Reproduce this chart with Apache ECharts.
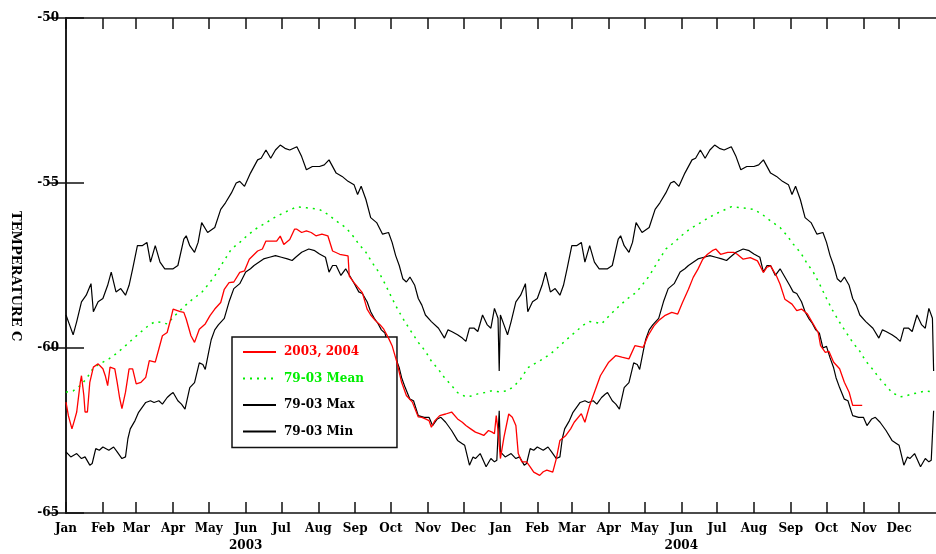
<!DOCTYPE html>
<html>
<head>
<meta charset="utf-8">
<script src="https://cdn.jsdelivr.net/npm/echarts@6/dist/echarts.min.js"></script>
<style>
  html, body { margin: 0; padding: 0; background: #fff; }
  #chart { width: 936px; height: 554px; }
</style>
</head>
<body>
<div id="chart"></div>
<script>
// Day-of-year climatology, 1979-2003: [dayOfYear, °C]
const maxClim = [
  [0,-59.0],[3,-59.3],[6,-59.6],[9,-59.2],[13,-58.6],[17,-58.4],[21,-58.05],[23,-58.9],[27,-58.6],[31,-58.5],
  [35,-58.1],[38,-57.7],[42,-58.3],[46,-58.2],[50,-58.4],[53,-58.1],[56,-57.6],[60,-56.9],[64,-56.9],[68,-56.8],
  [71,-57.4],[75,-56.9],[79,-57.4],[83,-57.6],[86,-57.6],[90,-57.6],[94,-57.5],[99,-56.7],[101,-56.6],[104,-56.9],
  [108,-57.1],[111,-56.8],[114,-56.2],[119,-56.5],[125,-56.35],[130,-55.8],[134,-55.6],[139,-55.3],[143,-55.0],
  [146,-54.95],[150,-55.1],[155,-54.7],[161,-54.3],[164,-54.25],[168,-54.0],[172,-54.25],[176,-54.0],[180,-53.85],
  [184,-53.95],[188,-54.0],[194,-53.9],[198,-54.2],[202,-54.6],[207,-54.5],[213,-54.5],[217,-54.45],[221,-54.3],
  [227,-54.7],[232,-54.8],[237,-54.95],[242,-55.05],[245,-55.35],[248,-55.1],[252,-55.5],[256,-56.05],[261,-56.2],
  [266,-56.55],[271,-56.5],[274,-56.8],[277,-57.2],[280,-57.5],[283,-57.9],[286,-58.0],[289,-57.85],[293,-58.1],
  [296,-58.5],[299,-58.7],[302,-59.0],[307,-59.2],[313,-59.4],[318,-59.7],[321,-59.45],[324,-59.5],[329,-59.6],
  [333,-59.7],[336,-59.8],[339,-59.4],[343,-59.4],[346,-59.5],[350,-59.0],[354,-59.3],[357,-59.4],[360,-58.8],
  [363,-59.1],[364,-60.7]
];

const meanClim = [
  [0,-61.34],[6,-61.3],[12,-61.14],[17,-60.94],[23,-60.6],[30,-60.45],[36,-60.33],[43,-60.15],[50,-59.93],
  [57,-59.7],[64,-59.48],[70,-59.3],[75,-59.2],[80,-59.22],[85,-59.27],[92,-59.0],[100,-58.72],[107,-58.5],
  [114,-58.32],[120,-58.05],[125,-57.82],[132,-57.4],[139,-57.0],[146,-56.8],[152,-56.6],[159,-56.4],[166,-56.25],
  [175,-56.05],[183,-55.9],[194,-55.72],[202,-55.75],[213,-55.8],[220,-55.95],[227,-56.15],[235,-56.35],
  [241,-56.6],[246,-56.85],[252,-57.1],[257,-57.4],[263,-57.71],[268,-58.05],[274,-58.5],[279,-58.85],
  [285,-59.22],[290,-59.5],[296,-59.83],[302,-60.1],[307,-60.4],[313,-60.65],[318,-60.9],[323,-61.1],
  [329,-61.35],[336,-61.48],[341,-61.45],[346,-61.39],[352,-61.35],[357,-61.3],[364,-61.33]
];

const minClim = [
  [0,-63.15],[4,-63.3],[9,-63.2],[13,-63.35],[16,-63.3],[20,-63.55],[22,-63.5],[25,-63.05],[28,-63.1],[31,-63.0],
  [36,-63.1],[40,-63.0],[43,-63.15],[47,-63.35],[50,-63.3],[52,-62.75],[54,-62.45],[58,-62.2],[61,-61.95],
  [64,-61.8],[67,-61.65],[71,-61.6],[74,-61.65],[78,-61.6],[81,-61.7],[85,-61.5],[88,-61.4],[90,-61.35],
  [94,-61.6],[97,-61.7],[100,-61.85],[104,-61.2],[108,-61.05],[112,-60.45],[115,-60.5],[117,-60.65],[120,-60.1],
  [122,-59.75],[125,-59.45],[128,-59.3],[133,-59.1],[137,-58.6],[141,-58.2],[146,-58.05],[151,-57.7],[155,-57.6],
  [158,-57.5],[162,-57.4],[166,-57.3],[171,-57.25],[176,-57.2],[181,-57.25],[186,-57.3],[190,-57.35],[193,-57.25],
  [198,-57.1],[204,-57.0],[209,-57.05],[213,-57.15],[218,-57.25],[221,-57.7],[224,-57.5],[227,-57.5],[231,-57.8],
  [235,-57.6],[239,-57.85],[243,-58.1],[246,-58.3],[249,-58.35],[253,-58.6],[256,-58.9],[259,-59.1],[262,-59.25],
  [265,-59.45],[268,-59.55],[271,-60.0],[274,-59.95],[277,-60.3],[280,-60.6],[282,-60.9],[285,-61.2],[289,-61.55],
  [292,-61.6],[296,-62.05],[301,-62.1],[305,-62.1],[308,-62.35],[312,-62.15],[315,-62.1],[319,-62.25],[324,-62.5],
  [329,-62.8],[333,-62.9],[335,-62.95],[339,-63.55],[342,-63.3],[344,-63.35],[348,-63.2],[353,-63.6],[357,-63.35],
  [360,-63.45],[362,-63.4],[364,-61.9]
];

// Observed 2003-2004: [days since 1 Jan 2003, °C]
const obs0304 = [
  [0,-61.64],[2,-62.05],[5,-62.45],[7,-62.2],[9,-61.94],[12,-61.04],[13,-60.84],[15,-61.44],[16,-61.94],[18,-61.94],
  [20,-61.04],[23,-60.58],[27,-60.48],[31,-60.63],[33,-60.84],[35,-61.14],[37,-60.58],[41,-60.63],[43,-61.04],
  [45,-61.5],[47,-61.84],[50,-61.34],[53,-60.63],[56,-60.63],[59,-61.09],[63,-61.04],[67,-60.89],[70,-60.38],
  [75,-60.43],[78,-60.03],[81,-59.63],[85,-59.53],[88,-59.12],[90,-58.82],[96,-58.9],[99,-58.92],[101,-59.12],
  [105,-59.63],[108,-59.83],[112,-59.43],[117,-59.27],[121,-59.02],[125,-58.82],[130,-58.62],[133,-58.22],
  [137,-58.02],[141,-58.0],[146,-57.71],[150,-57.66],[154,-57.31],[161,-57.06],[165,-57.0],[168,-56.76],
  [177,-56.76],[180,-56.61],[183,-56.86],[188,-56.71],[192,-56.4],[194,-56.4],[198,-56.5],[202,-56.45],
  [206,-56.5],[210,-56.6],[215,-56.55],[220,-56.6],[224,-57.06],[230,-57.16],[237,-57.21],[238,-57.82],
  [242,-58.02],[245,-58.15],[249,-58.32],[253,-58.82],[256,-59.0],[260,-59.17],[264,-59.3],[267,-59.43],
  [271,-59.7],[274,-59.93],[278,-60.43],[282,-61.04],[286,-61.44],[291,-61.64],[296,-62.09],[299,-62.1],
  [302,-62.15],[305,-62.2],[307,-62.4],[310,-62.2],[314,-62.05],[319,-62.0],[324,-61.94],[329,-62.15],
  [333,-62.25],[336,-62.35],[340,-62.45],[344,-62.55],[348,-62.6],[351,-62.65],[355,-62.5],[358,-62.55],
  [360,-62.6],[361.5,-62.05],[363,-62.5],[365,-63.35],[368,-62.7],[372,-62.0],[375,-62.1],[378,-62.35],
  [380,-63.2],[383,-63.45],[387,-63.45],[390,-63.6],[393,-63.76],[398,-63.86],[401,-63.75],[404,-63.7],
  [409,-63.76],[412,-63.35],[415,-62.8],[420,-62.65],[424,-62.45],[427,-62.25],[433,-61.99],[436,-62.25],
  [440,-61.74],[444,-61.34],[449,-60.84],[456,-60.43],[462,-60.23],[467,-60.28],[473,-60.33],[478,-59.93],
  [485,-59.98],[489,-59.63],[494,-59.33],[498,-59.17],[503,-59.02],[509,-58.92],[514,-58.97],[518,-58.62],
  [523,-58.22],[527,-57.86],[531,-57.61],[535,-57.31],[539,-57.16],[543,-57.05],[546,-57.0],[550,-57.16],
  [556,-57.1],[561,-57.1],[564,-57.16],[569,-57.31],[575,-57.26],[581,-57.36],[586,-57.71],[589,-57.55],
  [592,-57.51],[597,-57.82],[600,-58.07],[604,-58.52],[610,-58.67],[614,-58.87],[618,-58.82],[623,-58.97],
  [627,-59.22],[632,-59.53],[634,-59.93],[638,-60.13],[641,-60.1],[645,-60.43],[650,-60.63],[654,-61.04],
  [658,-61.34],[661,-61.74],[669,-61.74]
];

// Axis ticks: first day of each month, counted from 1 Jan 2003
const monthStarts = [0,31,59,90,120,151,181,212,243,273,304,334,
                     365,396,425,456,486,517,547,578,609,639,670,700];
const monthNames = ['Jan','Feb','Mar','Apr','May','Jun','Jul','Aug','Sep','Oct','Nov','Dec'];
const yearLabels = ['2003','2004'];
const yearStartDays = [0, 365];

// repeat a day-of-year climatology for each plotted year
function overYears(clim) {
  const out = [];
  yearStartDays.forEach(off => clim.forEach(p => out.push([p[0] + off, p[1]])));
  return out;
}

function monthLabel(v) {
  const i = monthStarts.indexOf(Math.round(v));
  if (i < 0) return '';
  const m = i % 12;
  let s = monthNames[m];
  if (m === 5) s += '\n' + yearLabels[Math.floor(i / 12)];
  return s;
}

const FONT = 'DejaVu Serif';
const axisLine = { show: true, lineStyle: { color: '#111', width: 1.5 } };
const tickStyle = { color: '#111', width: 1.5 };

const chart = echarts.init(document.getElementById('chart'), null, { renderer: 'canvas' });
chart.setOption({
  animation: false,
  backgroundColor: '#fff',
  grid: { left: 66, right: -12, top: 18, bottom: 39.5, containLabel: false },
  xAxis: [
    {
      type: 'value', position: 'bottom', min: 0, max: 731,
      axisLine: axisLine,
      axisTick: { show: true, inside: true, length: 11, customValues: monthStarts, lineStyle: tickStyle },
      axisLabel: { show: true, customValues: monthStarts, formatter: monthLabel, margin: 7,
                   fontFamily: FONT, fontWeight: 'bold', fontSize: 12, color: '#000', lineHeight: 17 },
      splitLine: { show: false }
    },
    {
      type: 'value', position: 'top', min: 0, max: 731,
      axisLine: axisLine,
      axisTick: { show: true, inside: true, length: 11, customValues: monthStarts, lineStyle: tickStyle },
      axisLabel: { show: false },
      splitLine: { show: false }
    }
  ],
  yAxis: [
    {
      type: 'value', position: 'left', min: -65, max: -50, interval: 5,
      axisLine: axisLine,
      axisTick: { show: true, inside: true, length: 18, lineStyle: tickStyle },
      axisLabel: { show: true, margin: 7, fontFamily: FONT, fontWeight: 'bold', fontSize: 12, color: '#000' },
      splitLine: { show: false }
    },
    {
      type: 'value', position: 'right', min: -65, max: -50, interval: 5,
      axisLine: axisLine,
      axisTick: { show: true, inside: true, length: 18, lineStyle: tickStyle },
      axisLabel: { show: false },
      splitLine: { show: false }
    }
  ],
  legend: {
    orient: 'vertical', left: 232, top: 337,
    padding: [9, 33, 10, 10],
    itemWidth: 33, itemHeight: 14, itemGap: 14.5,
    itemStyle: { opacity: 0 },
    backgroundColor: '#fff', borderColor: '#111', borderWidth: 1.5, borderRadius: 0,
    textStyle: { fontFamily: FONT, fontWeight: 'bold', fontSize: 12, padding: [0, 0, 0, 3] },
    data: [
      { name: '2003, 2004', textStyle: { color: '#ff0000' } },
      { name: '79-03 Mean', textStyle: { color: '#00ee00' } },
      { name: '79-03 Max', textStyle: { color: '#000' } },
      { name: '79-03 Min', textStyle: { color: '#000' } }
    ]
  },
  graphic: [{
    type: 'text', left: 9, top: 211, rotation: -Math.PI / 2,
    style: { text: 'TEMPERATURE C', font: 'bold 13px "DejaVu Serif"', fill: '#000' }
  }],
  series: [
    { name: '79-03 Max', type: 'line', symbol: 'none', data: overYears(maxClim),
      lineStyle: { color: '#000', width: 1.2 }, itemStyle: { color: '#000' }, z: 2 },
    { name: '79-03 Min', type: 'line', symbol: 'none', data: overYears(minClim),
      lineStyle: { color: '#000', width: 1.2 }, itemStyle: { color: '#000' }, z: 2 },
    { name: '79-03 Mean', type: 'line', symbol: 'none', data: overYears(meanClim),
      lineStyle: { color: '#00ee00', width: 1.5, type: [2, 5] }, itemStyle: { color: '#00ee00' }, z: 3 },
    { name: '2003, 2004', type: 'line', symbol: 'none', data: obs0304,
      lineStyle: { color: '#ff0000', width: 1.3 }, itemStyle: { color: '#ff0000' }, z: 4 }
  ]
});
</script>
</body>
</html>
